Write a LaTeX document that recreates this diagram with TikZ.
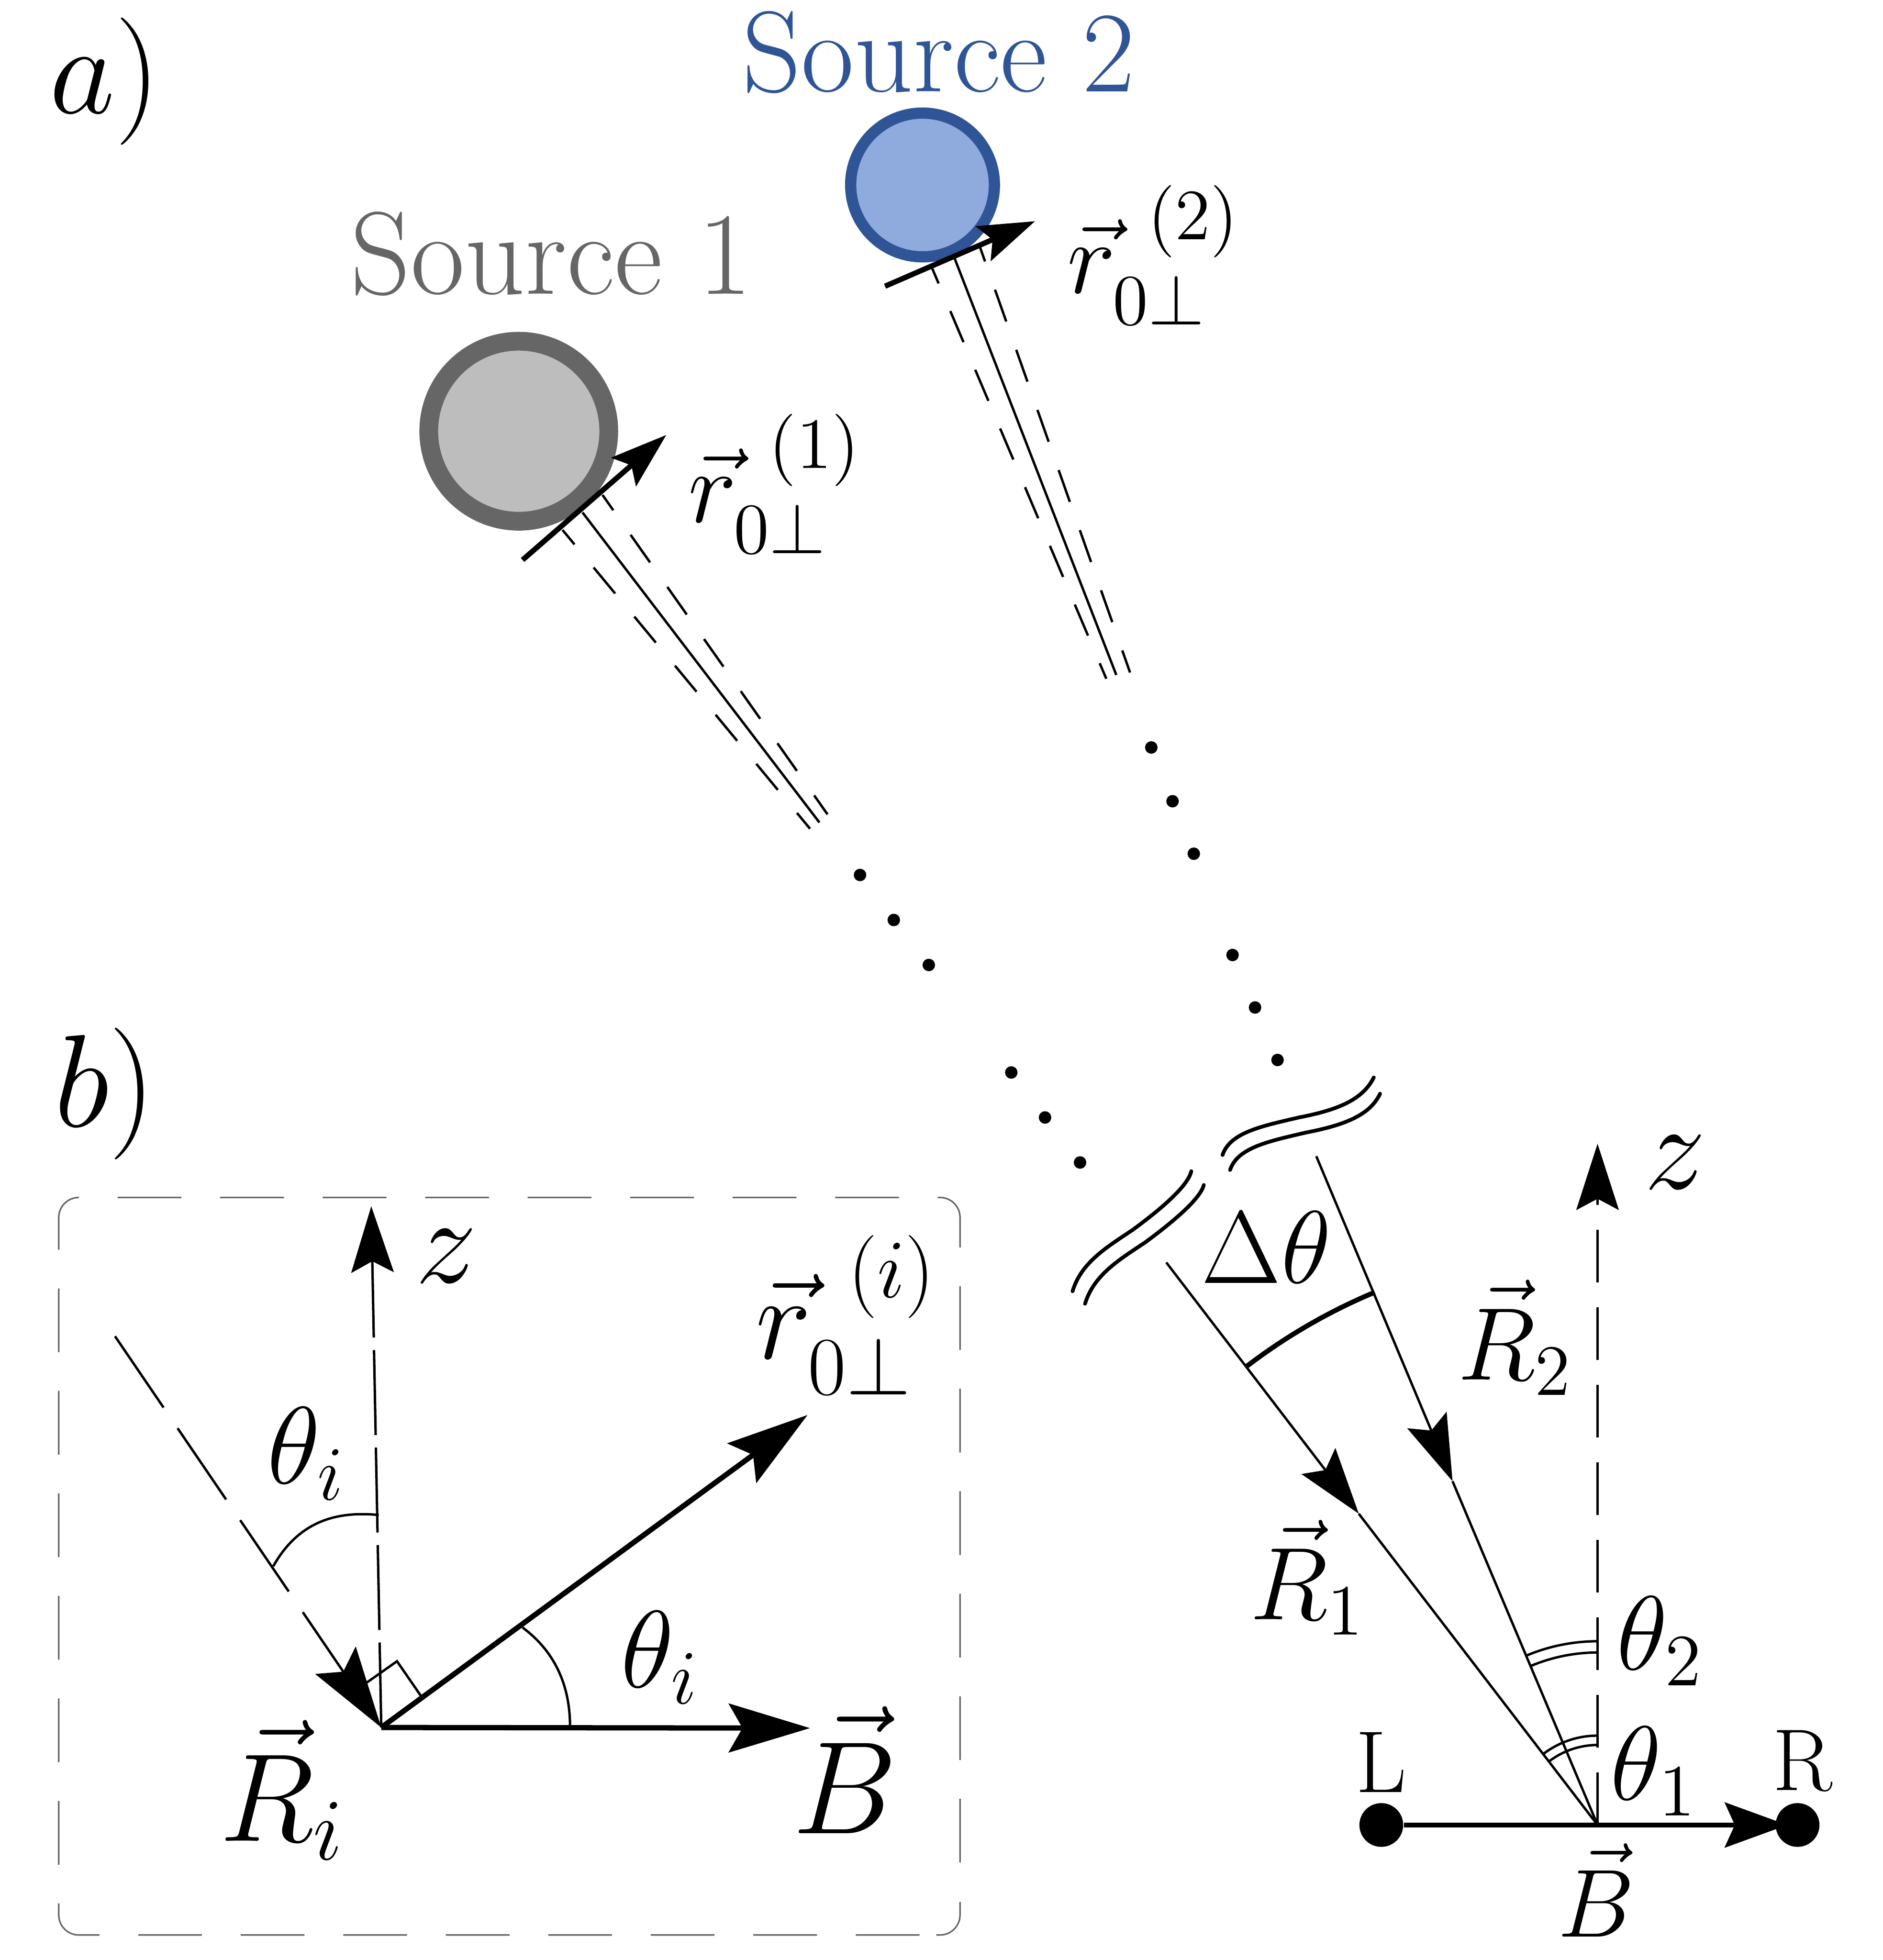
\documentclass[tikz,border=0pt]{standalone}
\usepackage{fix-cm}
\usepackage{amsmath,amssymb}
\usetikzlibrary{arrows.meta}
\definecolor{srcgray}{HTML}{666666}
\definecolor{srcgrayfill}{HTML}{BDBDBD}
\definecolor{srcblue}{HTML}{2F5597}
\definecolor{srcbluefill}{HTML}{8FAADC}
\newcommand{\lblsize}[1]{\fontsize{#1}{#1}\selectfont}
\tikzset{lbl/.style={inner sep=0pt,font=\lblsize{#1}},
	beam/.style={line width=0.55pt},
	beamdash/.style={line width=0.55pt,dash pattern=on .27cm off .24cm,dash phase=.12cm},
	thin line/.style={line width=0.55pt},
	wave/.style={line width=0.85pt,line cap=round},
	framebox/.style={srcgray,line width=.35pt,rounded corners=.16cm},
	bigtip/.style={-{Stealth[length=.65cm,width=.39cm,inset=.11cm]}},
	midtip/.style={-{Stealth[length=.45cm,width=.3cm,inset=.08cm]}},
	ztip/.style={-{Stealth[length=.53cm,width=.34cm,inset=.09cm]}},
	dot/.style={circle,fill=black,inner sep=0pt,minimum size=.1cm},
	detector/.style={circle,fill=black,inner sep=0pt,minimum size=.35cm}}

\begin{document}
\begin{tikzpicture}
		\useasboundingbox (0,0) rectangle (15.06,15.68);
		% panel labels
		\node[lbl=29] (pa) at (0.84,15.03) {$a)$};
		\node[lbl=30] (pb) at (0.84,6.93) {$b)$};
		% sources
		\node[lbl=26.8,text=srcgray] (s1) at (4.41,13.65) {Source 1};
		\node[lbl=26.2,text=srcblue] (s2) at (7.51,15.26) {Source 2};
		\node[circle,draw=srcgray,fill=srcgrayfill,line width=.15cm,inner sep=0pt,minimum size=1.44cm] (src1) at (4.15,12.23) {};
		\node[circle,draw=srcblue,fill=srcbluefill,line width=.09cm,inner sep=0pt,minimum size=1.15cm] (src2) at (7.38,14.20) {};
		% beam of source 1
		\coordinate (a1) at (4.18,11.20);
		\coordinate (a1e) at (5.33,12.20);
		\coordinate (b1s) at (4.66,11.58);
		\coordinate (b1e) at (6.555,9.10);
		\coordinate (b1ls) at (4.50,11.44);
		\coordinate (b1le) at (6.48,9.05);
		\coordinate (b1rs) at (4.82,11.72);
		\coordinate (b1re) at (6.62,9.165);
		\draw[beam] (b1s) -- (b1e);
		\draw[beamdash] (b1ls) -- (b1le);
		\draw[beamdash] (b1rs) -- (b1re);
		\draw[midtip,line width=1.2pt] (a1) -- (a1e);
		\node[lbl=23.5] (r1) at (6.20,11.81) {$\vec{r}_{0\perp}^{\;\,(1)}$};
		% beam of source 2
		\coordinate (a2) at (7.08,13.39);
		\coordinate (a2e) at (8.28,13.91);
		\coordinate (b2s) at (7.63,13.63);
		\coordinate (b2e) at (8.93,10.28);
		\coordinate (b2ls) at (7.45,13.55);
		\coordinate (b2le) at (8.85,10.25);
		\coordinate (b2rs) at (7.83,13.73);
		\coordinate (b2re) at (9.04,10.30);
		\draw[beam] (b2s) -- (b2e);
		\draw[beamdash] (b2ls) -- (b2le);
		\draw[beamdash] (b2rs) -- (b2re);
		\draw[midtip,line width=1.2pt] (a2) -- (a2e);
		\node[lbl=23.5] (r2) at (9.23,13.64) {$\vec{r}_{0\perp}^{\;\,(2)}$};
		% dots
		\foreach \n/\x/\y in {1/6.88/8.68,2/7.15/8.32,3/7.43/7.96,4/8.09/7.10,5/8.36/6.74,6/8.64/6.38,
			7/9.21/9.70,8/9.38/9.27,9/9.55/8.85,10/9.86/8.04,11/10.04/7.62,12/10.22/7.20}
			\node[dot] (d\n) at (\x,\y) {};
		% breaks
		\draw[wave] (9.78,6.44) .. controls (9.84,6.62) and (10.09,6.67) .. (10.39,6.74) .. controls (10.70,6.80) and (10.90,6.88) .. (10.99,7.06);
		\draw[wave] (9.84,6.32) .. controls (9.90,6.50) and (10.15,6.55) .. (10.45,6.62) .. controls (10.76,6.68) and (10.96,6.76) .. (11.04,6.93);
		\draw[wave] (8.58,5.35) .. controls (8.65,5.58) and (8.85,5.70) .. (9.06,5.84) .. controls (9.25,5.98) and (9.50,6.18) .. (9.53,6.31);
		\draw[wave] (8.68,5.25) .. controls (8.75,5.48) and (8.95,5.60) .. (9.16,5.74) .. controls (9.35,5.88) and (9.60,6.08) .. (9.63,6.20);
		% right hand geometry
		\coordinate (o) at (12.78,1.08);
		\coordinate (zt) at (12.78,6.53);
		\coordinate (ray1) at (9.33,5.58);
		\coordinate (ray1m) at (10.87,3.57);
		\coordinate (ray2) at (10.53,6.43);
		\coordinate (ray2m) at (11.62,3.83);
		\node[detector] (L) at (11.05,1.08) {};
		\node[detector] (R) at (14.38,1.08) {};
		\draw[ztip,line width=.55pt,dash pattern=on .42cm off .2cm] (o) -- (zt);
		\draw[ztip,thin line] (ray1) -- (ray1m);
		\draw[thin line] (ray1m) -- (o);
		\draw[ztip,thin line] (ray2) -- (ray2m);
		\draw[thin line] (ray2m) -- (o);
		\draw[line width=1.1pt,shorten >=-.1cm,-{Stealth[length=.5cm,width=.36cm,inset=.08cm]}] (L) -- (R);
		\draw[line width=1.1pt] (o)++(127.4:4.62) arc[start angle=127.4,end angle=112.7,radius=4.62];
		\draw[thin line] (o)++(127.4:.715) arc[start angle=127.4,end angle=90,radius=.715];
		\draw[thin line] (o)++(127.4:.64) arc[start angle=127.4,end angle=90,radius=.64];
		\draw[thin line] (o)++(112.7:1.47) arc[start angle=112.7,end angle=90,radius=1.47];
		\draw[thin line] (o)++(112.7:1.38) arc[start angle=112.7,end angle=90,radius=1.38];
		\node[lbl=23.5] (dt) at (10.13,5.70) {$\Delta\theta$};
		\node[lbl=28] (zr) at (13.40,6.38) {$z$};
		\node[lbl=23.5] (R2) at (12.12,4.98) {$\vec{R}_2$};
		\node[lbl=23.5] (R1) at (10.46,3.06) {$\vec{R}_1$};
		\node[lbl=24] (th2) at (13.28,2.55) {$\theta_2$};
		\node[lbl=24] (th1) at (13.23,1.51) {$\theta_1$};
		\node[lbl=20] (Ll) at (11.05,1.58) {L};
		\node[lbl=20] (Rl) at (14.42,1.59) {R};
		\node[lbl=22] (Bl) at (12.77,0.56) {$\vec{B}$};
		% panel b
		\draw[framebox,dash pattern=on .51cm off .31cm] (7.68,0.78) -- (7.68,6.10) -- (0.47,6.10) -- (0.47,0.20) -- (7.50,0.20);
		\draw[framebox] (7.49,0.20) -- (7.68,0.20) -- (7.68,0.465);
		\coordinate (O) at (3.05,1.86);
		\coordinate (Oz) at (2.97,6.03);
		\coordinate (Os) at (0.92,4.99);
		\coordinate (Or) at (6.46,4.36);
		\coordinate (Ob) at (6.48,1.855);
		\draw[ztip,line width=.55pt,dash pattern=on .68cm off .1cm] (O) -- (Oz);
		\draw[bigtip,line width=.55pt,dash pattern=on .69cm off .2cm] (Os) -- (O);
		\draw[bigtip,line width=1.2pt] (O) -- (Or);
		\draw[bigtip,line width=1.2pt] (O) -- (Ob);
		\draw[thin line] (2.935,2.22) -- (3.176,2.39) -- (3.376,2.10);
		\draw[thin line] (2.186,3.15) .. controls (2.40,3.53) and (2.72,3.59) .. (3.03,3.56);
		\draw[thin line] (4.18,2.66) .. controls (4.45,2.46) and (4.56,2.18) .. (4.56,1.87);
		\node[lbl=27] (ri) at (6.77,5.16) {$\vec{r}_{0\perp}^{\;\,(i)}$};
		\node[lbl=28] (zb) at (3.57,5.63) {$z$};
		\node[lbl=25] (thi) at (2.45,4.05) {$\theta_i$};
		\node[lbl=25] (thj) at (5.28,2.42) {$\theta_i$};
		\node[lbl=28.5] (Ri) at (2.26,1.36) {$\vec{R}_i$};
		\node[lbl=30] (Bb) at (6.76,1.52) {$\vec{B}$};
	\end{tikzpicture}
\end{document}
